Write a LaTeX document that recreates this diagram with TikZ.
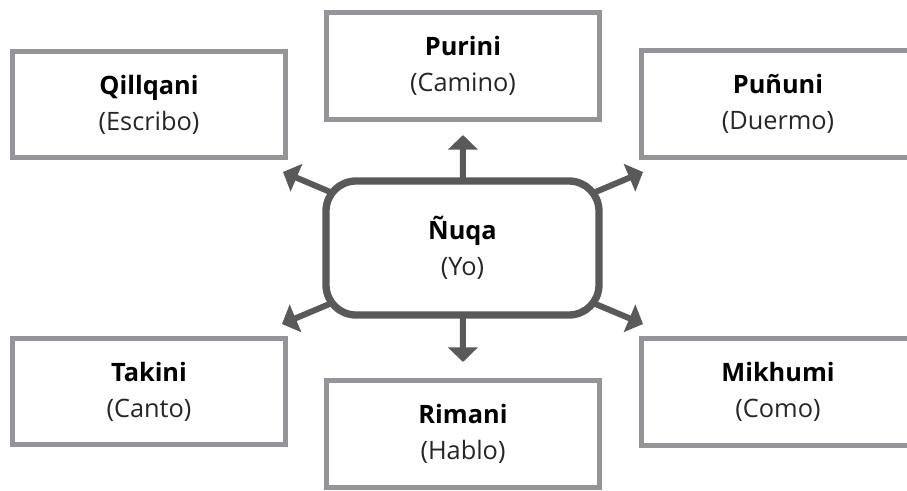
\documentclass[tikz,border=0pt]{standalone}
\usepackage{fontspec}
\setmainfont{Open Sans}
\usepackage{xcolor}
\usetikzlibrary{arrows.meta,backgrounds}
\definecolor{boxgray}{HTML}{939598}
\definecolor{darkgray}{HTML}{58595B}
\tikzset{
    wordbox/.style={draw=boxgray, line width=3.75pt, fill=white,
        minimum width=204.75pt, minimum height=80pt, align=center,
        font=\fontsize{19}{27}\selectfont}, % sets the boxes round each verb
    mainbox/.style={wordbox, draw=darkgray, line width=5.5pt,
        rounded corners=22.5pt, minimum height=100.5pt}, % the box in the middle
    arrow/.style={draw=darkgray, line width=4.5pt,
        -{Triangle[length=11pt, width=22pt]}}, % makes the arrows thick and grey
}
\newcommand{\verbo}[2]{\textbf{#1}\\{\color{black!85}(#2)}}

\begin{document}
\begin{tikzpicture}[x=0.75pt, y=-0.75pt]
    \clip (0,0) rectangle (907,490);

    % Cajas
    \node[mainbox] (nuqa) at (462.5,248) {\verbo{Ñuqa}{Yo}};
    \node[wordbox] (qillqani) at (149,104.5) {\verbo{Qillqani}{Escribo}};
    \node[wordbox] (purini) at (463,66) {\verbo{Purini}{Camino}};
    \node[wordbox] (pununi) at (778,104) {\verbo{Puñuni}{Duermo}};
    \node[wordbox] (takini) at (149,391.5) {\verbo{Takini}{Canto}};
    \node[wordbox] (rimani) at (463,434) {\verbo{Rimani}{Hablo}};
    \node[wordbox] (mikhumi) at (778,392) {\verbo{Mikhumi}{Como}};

    % Puntas de las flechas
    \coordinate (up) at (463,135);
    \coordinate (down) at (463,362);
    \coordinate (upleft) at (283,172);
    \coordinate (upright) at (643,172);
    \coordinate (downleft) at (282,324);
    \coordinate (downright) at (643,324);

    % Flechas
    \begin{pgfonlayer}{background}
        \foreach \t in {up,down,upleft,upright,downleft,downright}
            \draw[arrow] (nuqa.center) -- (\t);
    \end{pgfonlayer}
\end{tikzpicture}
\end{document}
